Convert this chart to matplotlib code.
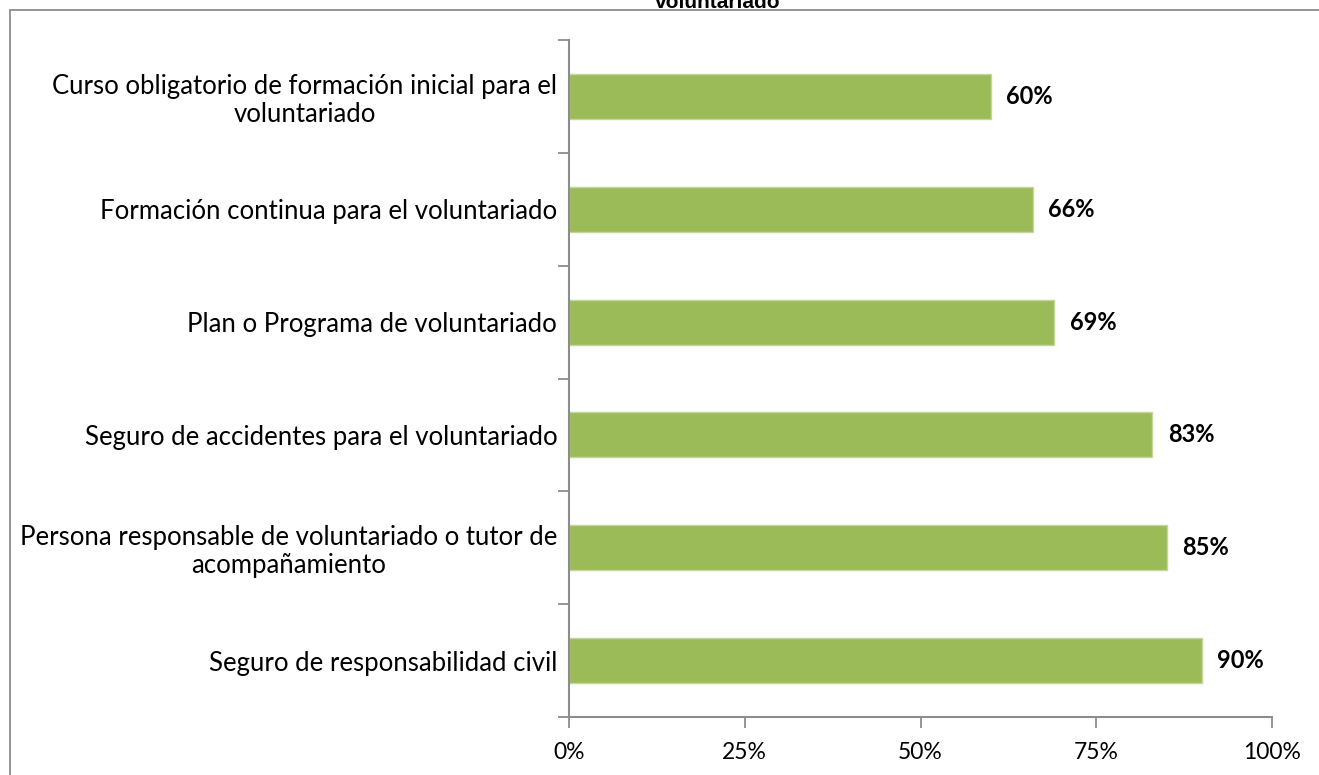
import matplotlib
matplotlib.use("Agg")
import matplotlib.pyplot as plt
from matplotlib.patches import Rectangle
import numpy as np

categories = [
    "Curso obligatorio de formación inicial para el\nvoluntariado",
    "Formación continua para el voluntariado",
    "Plan o Programa de voluntariado",
    "Seguro de accidentes para el voluntariado",
    "Persona responsable de voluntariado o tutor de\nacompañamiento",
    "Seguro de responsabilidad civil",
]
values = [60, 66, 69, 83, 85, 90]
value_labels = ["60%", "66%", "69%", "83%", "85%", "90%"]
xticks = [0, 25, 50, 75, 100]
xtick_labels = ["0%", "25%", "50%", "75%", "100%"]
title = "voluntariado"

W, H = 1319, 775
fig = plt.figure(figsize=(W / 100, H / 100), dpi=100)
fig.patch.set_facecolor("white")

# outer chart border (cropped)
fig.patches.append(Rectangle((10 / W, -0.1), 1.2, 1 - 10 / H + 0.1, transform=fig.transFigure,
                             fill=False, edgecolor="#8c8c8c", linewidth=1.3))
fig.text(718 / W, 1 - 2 / H, title, ha="center", va="center", fontsize=15,
         fontweight="bold", family="Liberation Sans")

ax = fig.add_axes([569 / W, 1 - 717 / H, (1272 - 569) / W, (717 - 40) / H])
n = len(categories)
ypos = np.arange(n)[::-1]
green = "#9bbb59"
ax.barh(ypos, values, height=0.4, color=green, edgecolor="#c3d69b", linewidth=1)
for y, v, lab in zip(ypos, values, value_labels):
    ax.text(v + 2.2, y, lab, va="center", ha="left", fontsize=17, fontweight="bold",
            family="Lato")

ax.set_xlim(0, 100)
ax.set_ylim(-0.5, n - 0.5)
ax.set_xticks(xticks)
ax.set_xticklabels(xtick_labels, fontsize=16.5, family="Lato")
ax.set_yticks(ypos)
ax.set_yticklabels(categories, fontsize=18.5, family="Lato", multialignment="center",
                   linespacing=1.15)
ax.set_yticks(np.arange(-0.5, n, 1), minor=True)
ax.tick_params(axis="y", which="major", length=0, pad=8.5)
ax.tick_params(axis="y", which="minor", length=8, width=1.3, color="#8c8c8c", direction="out")
ax.tick_params(axis="x", which="major", length=8, width=1.3, color="#8c8c8c", direction="out", pad=10)
for s in ["top", "right"]:
    ax.spines[s].set_visible(False)
for s in ["left", "bottom"]:
    ax.spines[s].set_color("#8c8c8c")
    ax.spines[s].set_linewidth(1.5)

fig.savefig("out.png", dpi=100)
